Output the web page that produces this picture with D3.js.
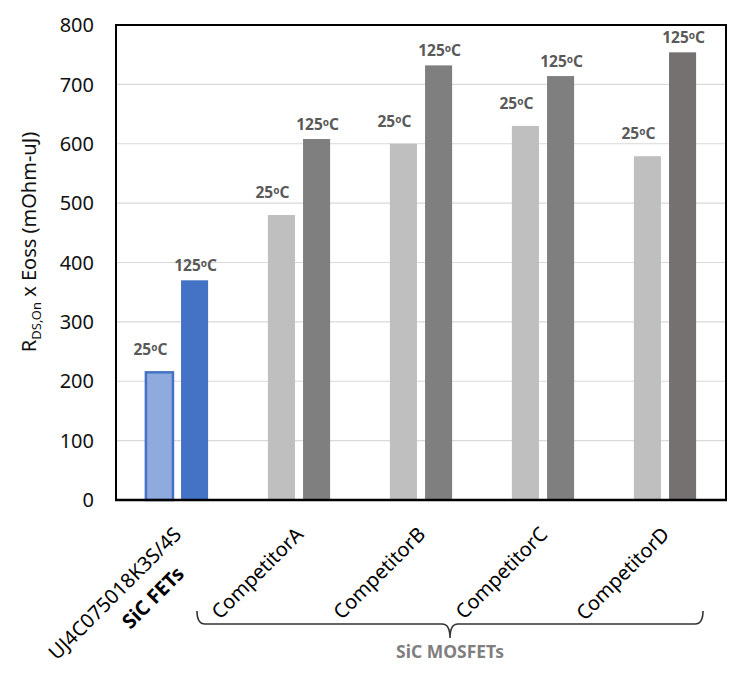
<!DOCTYPE html>
<html>
<head>
<meta charset="utf-8">
<script src="https://cdn.jsdelivr.net/npm/d3@7"></script>
<style>
body { margin: 0; background: #fff; }
svg { font-family: "Noto Sans", "Open Sans", sans-serif; }
</style>
</head>
<body>
<script>
// data
var categories = ["UJ4C075018K3S/4S", "CompetitorA", "CompetitorB", "CompetitorC", "CompetitorD"];
var subLabels = ["SiC FETs", "", "", "", ""];
var temps = ["25", "125"];
var values25 = [215, 480, 600, 630, 579];
var values125 = [370, 608, 732, 714, 754];
var yTicks = [0, 100, 200, 300, 400, 500, 600, 700, 800];
var groupLabel = "SiC MOSFETs";

// colours per category
var fill25 = ["#8FAADC", "#BFBFBF", "#BFBFBF", "#BFBFBF", "#BFBFBF"];
var fill125 = ["#4472C4", "#7F7F7F", "#7F7F7F", "#7F7F7F", "#767171"];

var W = 749, H = 681;
var m = {left: 116, top: 25, right: 23, bottom: 181};
var pw = W - m.left - m.right, ph = H - m.top - m.bottom;

var svg = d3.select("body").append("svg").attr("width", W).attr("height", H);
var g = svg.append("g").attr("transform", "translate(" + m.left + "," + m.top + ")");

var x = d3.scaleBand().domain(categories).range([0, pw]).paddingInner(0.49).paddingOuter(0.245);
var xs = d3.scaleBand().domain(temps).range([0, x.bandwidth()]).paddingInner(0.23);
var y = d3.scaleLinear().domain([0, 800]).range([ph, 0]);

var rows = categories.map(function(c, i) {
  return {cat: c, i: i, vals: [{t: "25", v: values25[i], i: i}, {t: "125", v: values125[i], i: i}]};
});

// gridlines
g.selectAll("line.grid")
  .data(yTicks.filter(function(d) { return d > 0 && d < 800; }))
  .enter().append("line")
    .attr("class", "grid")
    .attr("x1", 0).attr("x2", pw)
    .attr("y1", function(d) { return y(d); })
    .attr("y2", function(d) { return y(d); })
    .attr("stroke", "#D9D9D9").attr("stroke-width", 1.2);

// y tick labels
g.selectAll("text.ytick")
  .data(yTicks)
  .enter().append("text")
    .attr("class", "ytick")
    .attr("x", -22)
    .attr("y", function(d) { return y(d); })
    .attr("dy", "0.36em")
    .attr("text-anchor", "end")
    .attr("font-size", 20)
    .attr("fill", "#111")
    .text(function(d) { return d; });

// bars
var grp = g.selectAll("g.cat")
  .data(rows)
  .enter().append("g")
    .attr("class", "cat")
    .attr("transform", function(d) { return "translate(" + x(d.cat) + ",0)"; });

grp.selectAll("rect")
  .data(function(d) { return d.vals; })
  .enter().append("rect")
    .attr("x", function(d) { return xs(d.t); })
    .attr("width", xs.bandwidth())
    .attr("y", function(d) { return y(d.v); })
    .attr("height", function(d) { return y(0) - y(d.v); })
    .attr("fill", function(d) { return d.t === "25" ? fill25[d.i] : fill125[d.i]; })
    .attr("stroke", function(d) { return (d.i === 0 && d.t === "25") ? "#4472C4" : "none"; })
    .attr("stroke-width", 2.5);

// value labels "25oC" / "125oC"
var lab = grp.selectAll("text.vlab")
  .data(function(d) { return d.vals; })
  .enter().append("text")
    .attr("class", "vlab")
    .attr("x", function(d) { return xs(d.t) + xs.bandwidth() / 2 + (d.t === "25" ? -9 : 1); })
    .attr("y", function(d) { return y(d.v) - (d.t === "25" ? 17 : 9); })
    .attr("text-anchor", "middle")
    .attr("font-size", 15.5)
    .attr("font-weight", "bold")
    .attr("fill", "#595959");
lab.append("tspan").text(function(d) { return d.t; });
lab.append("tspan").attr("font-size", 10).attr("dy", -4).text("o");
lab.append("tspan").attr("dy", 4).text("C");

// frame
g.append("rect")
  .attr("x", 0).attr("y", 0).attr("width", pw).attr("height", ph)
  .attr("fill", "none").attr("stroke", "#000").attr("stroke-width", 2);
g.append("line")
  .attr("x1", -1).attr("x2", pw + 1).attr("y1", ph).attr("y2", ph)
  .attr("stroke", "#000").attr("stroke-width", 2.5);

// category labels (rotated)
var cl = g.selectAll("g.clab")
  .data(rows)
  .enter().append("g")
    .attr("class", "clab")
    .attr("transform", function(d) {
      return "translate(" + (x(d.cat) + x.bandwidth() / 2 - 5) + "," + (ph + 25) + ") rotate(-45)";
    });
cl.append("text")
  .attr("class", "l1")
  .attr("text-anchor", "end")
  .attr("dy", "0.75em")
  .attr("font-size", 20)
  .attr("fill", "#000")
  .text(function(d) { return d.cat; });
cl.each(function(d) {
  if (!subLabels[d.i]) return;
  d3.select(this).append("text")
    .attr("x", -26)
    .attr("dy", "2.25em")
    .attr("text-anchor", "end")
    .attr("font-size", 20)
    .attr("font-weight", "bold")
    .attr("fill", "#000")
    .text(subLabels[d.i]);
});

// bracket under the competitors
var cA = x(categories[1]) + x.bandwidth() / 2;
var cD = x(categories[4]) + x.bandwidth() / 2;
var bl = cA - 102, br = cD + 38, bm = (bl + br) / 2;
var by = ph + 124, bt = ph + 111;
g.append("path")
  .attr("d", "M" + bl + "," + bt + " Q" + bl + "," + by + " " + (bl + 8) + "," + by +
    " H" + (bm - 8) + " Q" + bm + "," + by + " " + bm + "," + (by + 14) +
    " Q" + bm + "," + by + " " + (bm + 8) + "," + by +
    " H" + (br - 8) + " Q" + br + "," + by + " " + br + "," + bt)
  .attr("fill", "none").attr("stroke", "#333").attr("stroke-width", 1.6);

g.append("text")
  .attr("x", bm).attr("y", ph + 158)
  .attr("text-anchor", "middle")
  .attr("font-size", 17.5)
  .attr("font-weight", "bold")
  .attr("fill", "#7F7F7F")
  .text(groupLabel);

// y axis title
var yt = svg.append("text")
  .attr("transform", "translate(36," + (m.top + 217) + ") rotate(-90)")
  .attr("text-anchor", "middle")
  .attr("font-size", 20)
  .attr("fill", "#111");
yt.append("tspan").text("R");
yt.append("tspan").attr("font-size", 13).attr("dy", 5).text("DS,On");
yt.append("tspan").attr("dy", -5).text(" x Eoss (mOhm-uJ)");
</script>
</body>
</html>
